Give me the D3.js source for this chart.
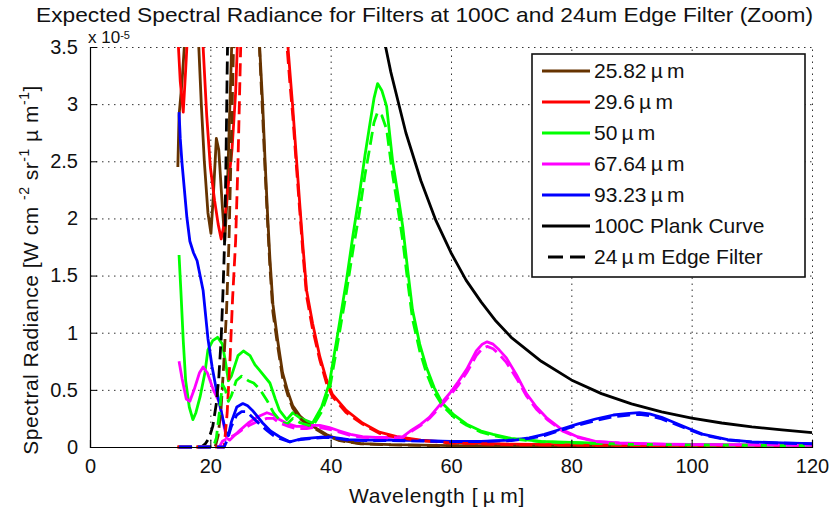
<!DOCTYPE html>
<html>
<head>
<meta charset="utf-8">
<script src="https://cdn.jsdelivr.net/npm/d3@7"></script>
<style>
  body { margin: 0; background: #fff; }
  svg { display: block; font-family: "Liberation Sans", Arial, sans-serif; }
</style>
</head>
<body>
<div id="chart"></div>
<script>
// radiance in units of 1e-5 W cm^-2 sr^-1 um^-1
// each point is [wavelength (um), radiance]
const xTicks = [0, 20, 40, 60, 80, 100, 120];
const yTicks = [0, 0.5, 1, 1.5, 2, 2.5, 3, 3.5];
const legendLabels = ["25.82\u2009\u00b5\u2009m", "29.6\u2009\u00b5\u2009m", "50\u2009\u00b5\u2009m",
  "67.64\u2009\u00b5\u2009m", "93.23\u2009\u00b5\u2009m", "100C Plank Curve", "24\u2009\u00b5\u2009m Edge Filter"];

const brownSolid = [[14.6,2.45],[14.8,2.9],[15.3,3.2],[15.8,3.6],[16.5,4.5],[17.5,4.5],[18.0,3.6],[18.5,3.0],
  [19.0,2.5],[19.6,2.05],[20.1,1.87],[20.5,2.2],[21.0,2.7],[21.4,2.6],[22.0,2.1],[22.4,1.8],[22.8,2.2],
  [23.2,2.9],[23.6,3.6],[24.0,4.5],[27.7,4.5],[28.2,3.5],[28.7,3.0],[29.1,2.5],[29.5,2.05],[29.9,1.65],
  [30.4,1.25],[31.2,0.93],[32.0,0.65],[32.9,0.48],[33.7,0.36],[34.9,0.27],[36.0,0.22],[37.7,0.16],
  [39.3,0.11],[41.5,0.06],[45,0.03],[50,0.02],[60,0.012],[80,0.006],[120,0.003]];
const brownEdge = [[14.6,0],[20.8,0],[21.3,0.1],[21.8,0.35],[22.2,0.7],[22.7,1.2],[23.1,1.8],[23.5,2.7],
  [23.9,3.6],[24.3,4.5],[27.7,4.5],[28.2,3.45],[28.7,2.9],[29.1,2.42],[29.5,1.98],[29.9,1.58],[30.4,1.18],
  [31.2,0.88],[32.0,0.61],[32.9,0.45],[33.7,0.34],[34.9,0.25],[36.0,0.2],[37.7,0.15],[39.3,0.1],
  [41.5,0.055],[45,0.028],[50,0.018],[60,0.01],[80,0.005],[120,0.003]];

const redSolid = [[14.5,3.7],[15.0,3.2],[15.5,2.93],[15.9,3.3],[16.3,3.7],[17.0,4.5],[18.4,4.5],[18.8,3.5],
  [19.4,2.9],[20.0,2.45],[20.7,2.16],[21.3,1.95],[21.8,1.82],[22.3,1.95],[22.9,2.25],[23.6,2.6],[24.2,3.1],
  [24.7,3.8],[25.2,4.5],[32.0,4.5],[32.6,3.7],[33.2,3.3],[33.7,2.97],[34.3,2.53],[34.9,2.1],[35.4,1.75],
  [36.0,1.37],[37.0,1.08],[38.2,0.79],[39.3,0.59],[40.3,0.46],[42.6,0.32],[45.3,0.21],[48.1,0.13],
  [51,0.09],[55,0.06],[60,0.04],[70,0.025],[90,0.015],[120,0.008]];
const redEdge = [[14.5,0],[22.3,0],[22.8,0.3],[23.3,0.8],[23.7,1.3],[24.2,1.8],[24.6,2.5],[25.0,3.4],
  [25.4,4.3],[32.0,4.5],[32.6,3.6],[33.2,3.2],[33.7,2.9],[34.3,2.46],[34.9,2.04],[35.4,1.69],[36.0,1.32],
  [37.0,1.03],[38.2,0.76],[39.3,0.56],[40.3,0.44],[42.6,0.3],[45.3,0.2],[48.1,0.12],[51,0.085],
  [55,0.055],[60,0.035],[70,0.02],[90,0.012],[120,0.007]];

const greenSolid = [[14.8,1.68],[15.1,1.37],[15.5,0.93],[15.9,0.58],[16.5,0.35],[17.1,0.24],[17.6,0.3],
  [18.3,0.44],[19.1,0.65],[19.6,0.85],[20.4,0.93],[21.2,0.96],[22.0,0.9],[22.5,0.75],[23.0,0.58],
  [23.5,0.62],[24.6,0.8],[25.5,0.84],[26.6,0.8],[27.4,0.72],[28.2,0.67],[29.9,0.56],[30.8,0.42],
  [31.5,0.32],[32.7,0.24],[33.7,0.3],[35.0,0.25],[37.0,0.21],[38.5,0.35],[39.8,0.56],[41.2,1.0],
  [42.6,1.45],[43.7,1.85],[44.8,2.22],[45.7,2.55],[46.5,2.82],[47.2,3.05],[47.8,3.18],[48.5,3.12],
  [49.3,2.98],[50.3,2.5],[51.2,2.2],[52.0,1.92],[52.8,1.55],[53.6,1.2],[54.8,0.9],[55.9,0.7],[57.2,0.52],
  [58.6,0.38],[60.5,0.28],[62.6,0.2],[65,0.14],[67,0.11],[70,0.075],[75,0.05],[80,0.04],[90,0.025],
  [100,0.02],[120,0.012]];
const greenEdge = [[14.8,0],[20.5,0],[21.0,0.08],[21.5,0.3],[22.0,0.55],[22.5,0.5],[23.0,0.4],[23.5,0.45],
  [24.3,0.58],[25.2,0.62],[26.3,0.58],[27.2,0.56],[28.3,0.5],[29.5,0.4],[30.5,0.3],[31.6,0.23],[32.7,0.2],
  [33.7,0.25],[35.0,0.21],[37.0,0.18],[38.5,0.31],[39.8,0.5],[41.2,0.92],[42.6,1.35],[43.7,1.72],
  [44.8,2.06],[45.7,2.38],[46.5,2.62],[47.2,2.84],[47.8,2.93],[48.5,2.9],[49.3,2.78],[50.3,2.38],
  [51.2,2.08],[52.0,1.8],[52.8,1.45],[53.6,1.12],[54.8,0.84],[55.9,0.65],[57.2,0.48],[58.6,0.36],
  [60.5,0.26],[62.6,0.19],[65,0.13],[67,0.1],[70,0.07],[75,0.046],[80,0.037],[90,0.023],[100,0.018],
  [120,0.011]];

const magentaSolid = [[14.8,0.75],[15.3,0.6],[16.0,0.42],[16.6,0.4],[17.3,0.5],[18.2,0.65],[18.8,0.7],
  [19.5,0.65],[20.5,0.5],[21.6,0.38],[22.2,0.2],[22.7,0.08],[23.2,0.06],[24.0,0.1],[25.0,0.15],
  [26.3,0.21],[27.7,0.26],[29.4,0.3],[30.5,0.28],[31.5,0.24],[33.0,0.2],[34.3,0.18],[36,0.18],[37,0.19],
  [38.2,0.19],[39.8,0.17],[41.5,0.14],[43.3,0.11],[45.3,0.09],[47.5,0.085],[49.8,0.085],[52.0,0.09],
  [53.5,0.15],[55,0.2],[56.4,0.26],[58,0.36],[59.8,0.47],[61.2,0.57],[62.6,0.68],[64.2,0.84],[65.2,0.9],
  [66.0,0.92],[67,0.9],[68,0.85],[69.2,0.78],[70.9,0.63],[72.5,0.47],[74.2,0.35],[76,0.25],[78.5,0.15],
  [81,0.09],[84,0.05],[88,0.035],[95,0.025],[105,0.02],[120,0.015]];
const magentaEdge = [[14.8,0],[21.5,0],[22.0,0.05],[22.7,0.07],[23.5,0.09],[24.5,0.12],[25.5,0.16],
  [26.5,0.19],[27.7,0.22],[29.4,0.25],[30.5,0.25],[31.5,0.21],[33,0.18],[34.3,0.16],[36,0.16],[37,0.17],
  [38.2,0.17],[39.8,0.155],[41.5,0.13],[43.3,0.1],[45.3,0.085],[47.5,0.08],[49.8,0.08],[52.0,0.085],
  [53.5,0.14],[55,0.19],[56.4,0.25],[58,0.34],[59.8,0.45],[61.2,0.54],[62.6,0.65],[64.2,0.8],[65.2,0.86],
  [66.0,0.88],[67,0.86],[68,0.81],[69.2,0.74],[70.9,0.6],[72.5,0.45],[74.2,0.33],[76,0.24],[78.5,0.14],
  [81,0.085],[84,0.048],[88,0.033],[95,0.024],[105,0.019],[120,0.014]];

const blueSolid = [[14.8,2.93],[15.0,2.7],[15.3,2.48],[16.1,2.01],[16.6,1.8],[17.2,1.7],[17.8,1.63],
  [18.8,1.37],[19.6,0.95],[20.3,0.7],[21.0,0.5],[21.6,0.36],[22.1,0.24],[22.6,0.13],[23.0,0.1],
  [23.5,0.22],[24.4,0.35],[25.4,0.38],[26.2,0.36],[27.0,0.32],[28.7,0.21],[30.0,0.14],[31.5,0.09],
  [33.2,0.045],[35,0.07],[37,0.08],[39.3,0.09],[41,0.08],[43,0.065],[46,0.06],[50,0.06],[55,0.055],
  [60,0.05],[65,0.05],[70,0.06],[73,0.08],[75.5,0.11],[78.5,0.16],[81,0.2],[84,0.245],[87,0.28],
  [89.6,0.295],[91.3,0.3],[93,0.29],[95,0.26],[97.3,0.21],[99.6,0.16],[102,0.11],[106,0.065],[110,0.045],
  [115,0.035],[120,0.03]];
const blueEdge = [[14.8,0],[22.3,0],[22.8,0.06],[23.5,0.18],[24.4,0.28],[25.2,0.31],[26,0.31],[27,0.26],
  [28.2,0.2],[29.5,0.14],[30.5,0.1],[31.5,0.075],[33.2,0.045],[35,0.065],[37,0.075],[39.3,0.085],
  [41,0.075],[43,0.06],[46,0.056],[50,0.056],[55,0.052],[60,0.047],[65,0.047],[70,0.056],[73,0.075],
  [75.5,0.1],[78.5,0.15],[81,0.19],[84,0.23],[87,0.265],[89.6,0.28],[91.3,0.285],[93,0.275],[95,0.245],
  [97.3,0.2],[99.6,0.15],[102,0.105],[106,0.06],[110,0.042],[115,0.033],[120,0.028]];

const planck = [[47,4.08],[48,3.79],[50,3.28],[52.5,2.75],[55,2.33],[57.5,1.98],[60,1.7],[62.5,1.46],
  [65,1.27],[67.5,1.1],[70,0.96],[75,0.75],[80,0.587],[85,0.467],[90,0.377],[95,0.307],[100,0.253],
  [105,0.21],[110,0.176],[115,0.149],[120,0.126]];
const edgeFilter = [[14.8,0],[18.5,0],[19.2,0.03],[19.8,0.08],[20.4,0.18],[21.0,0.38],[21.4,0.6],
  [21.8,0.95],[22.1,1.35],[22.4,1.85],[22.6,2.5],[22.8,3.3],[23.0,4.0],[23.2,4.6]];

const brown = "#663300", red = "#ff0000", green = "#00ff00", magenta = "#ff00ff", blue = "#0000ff";

const series = [
  { data: brownSolid, color: brown }, { data: redSolid, color: red }, { data: greenSolid, color: green },
  { data: magentaSolid, color: magenta }, { data: blueSolid, color: blue },
  { data: planck, color: "#000" }, { data: edgeFilter, color: "#000", dash: true },
  { data: brownEdge, color: brown, dash: true }, { data: redEdge, color: red, dash: true },
  { data: greenEdge, color: green, dash: true }, { data: magentaEdge, color: magenta, dash: true },
  { data: blueEdge, color: blue, dash: true }
];
const legendItems = [
  { color: brown }, { color: red }, { color: green }, { color: magenta }, { color: blue },
  { color: "#000" }, { color: "#000", dash: true }
];

const W = 832, H = 507;
const svg = d3.select("#chart").append("svg").attr("width", W).attr("height", H);

const x = d3.scaleLinear().domain([0, 120]).range([90, 812]);
const y = d3.scaleLinear().domain([0, 3.5]).range([447, 47]);

// dotted grid
const grid = svg.append("g").attr("stroke", "#333").attr("stroke-width", 1).attr("stroke-dasharray", "1.5,4.5");
grid.selectAll(".gx").data(xTicks.slice(1)).join("line")
  .attr("x1", d => x(d) + 0.5).attr("x2", d => x(d) + 0.5).attr("y1", y(0)).attr("y2", y(3.5));
grid.selectAll(".gy").data(yTicks.slice(1)).join("line")
  .attr("y1", d => y(d) + 0.5).attr("y2", d => y(d) + 0.5).attr("x1", x(0)).attr("x2", x(120));

// curves
svg.append("clipPath").attr("id", "plot")
  .append("rect").attr("x", x(0)).attr("y", y(3.5)).attr("width", x(120) - x(0) + 2).attr("height", y(0) - y(3.5) + 2);

const line = d3.line().x(d => x(d[0])).y(d => y(d[1]));
svg.append("g").attr("clip-path", "url(#plot)")
  .selectAll("path").data(series).join("path")
  .attr("d", d => line(d.data))
  .attr("fill", "none")
  .attr("stroke", d => d.color)
  .attr("stroke-width", 2.8)
  .attr("stroke-linejoin", "round")
  .attr("stroke-dasharray", d => d.dash ? "13,6" : null);

// axes
const xAxis = svg.append("g").attr("transform", `translate(0,${y(0)})`)
  .call(d3.axisBottom(x).tickValues(xTicks).tickSize(-7).tickPadding(12).tickFormat(d3.format("d")));
const yAxis = svg.append("g").attr("transform", `translate(${x(0)},0)`)
  .call(d3.axisLeft(y).tickValues(yTicks).tickSize(-7).tickPadding(12).tickFormat(d => String(d)));
[xAxis, yAxis].forEach(a => {
  a.select(".domain").attr("stroke", "#000").attr("stroke-width", 1.2);
  a.selectAll(".tick line").attr("stroke", "#000");
  a.selectAll("text").attr("font-size", 20).attr("fill", "#111").attr("font-family", "Liberation Sans, Arial, sans-serif");
});
xAxis.selectAll(".tick").filter(d => d === 120).select("line").remove();
yAxis.selectAll(".tick").filter(d => d === 3.5).select("line").remove();

// exponent, tucked just under the title
const expo = svg.append("text").attr("x", 88).attr("y", 43).attr("font-size", 17).attr("fill", "#111");
expo.append("tspan").text("x 10");
expo.append("tspan").attr("dy", -4).attr("font-size", 11).text("-5");

// title
svg.append("text").attr("x", 36).attr("y", 22).attr("font-size", 21).attr("fill", "#111")
  .attr("textLength", 777).attr("lengthAdjust", "spacingAndGlyphs")
  .text("Expected Spectral Radiance for Filters at 100C and 24um Edge Filter (Zoom)");

// x label
svg.append("text").attr("x", 437).attr("y", 503).attr("text-anchor", "middle").attr("font-size", 21)
  .attr("letter-spacing", 0.6).attr("fill", "#111").text("Wavelength [\u2009\u00b5\u2009m]");

// y label
const yl = svg.append("text").attr("transform", "translate(38,270) rotate(-90)")
  .attr("text-anchor", "middle").attr("font-size", 21).attr("letter-spacing", 0.5).attr("fill", "#111");
yl.append("tspan").text("Spectral Radiance [W cm ");
yl.append("tspan").attr("dy", -9).attr("font-size", 14).text("-2");
yl.append("tspan").attr("dy", 9).text(" sr");
yl.append("tspan").attr("dy", -9).attr("font-size", 14).text("-1");
yl.append("tspan").attr("dy", 9).text(" \u00b5 m");
yl.append("tspan").attr("dy", -9).attr("font-size", 14).text("-1");
yl.append("tspan").attr("dy", 9).text("]");

// legend
const lg = svg.append("g");
lg.append("rect").attr("x", 532).attr("y", 54).attr("width", 273).attr("height", 223)
  .attr("fill", "#fff").attr("stroke", "#111").attr("stroke-width", 1.6);
const rows = lg.selectAll(".row").data(legendItems).join("g")
  .attr("transform", (d, i) => `translate(0,${71 + i * 31})`);
rows.append("line").attr("x1", 542).attr("x2", 590)
  .attr("stroke", d => d.color).attr("stroke-width", 2.8)
  .attr("stroke-dasharray", d => d.dash ? "15,7" : null)
  .attr("stroke-dashoffset", d => d.dash ? 16 : null);
rows.append("text").attr("x", 594).attr("y", 7).attr("font-size", 21).attr("fill", "#111")
  .text((d, i) => legendLabels[i]);
</script>
</body>
</html>
